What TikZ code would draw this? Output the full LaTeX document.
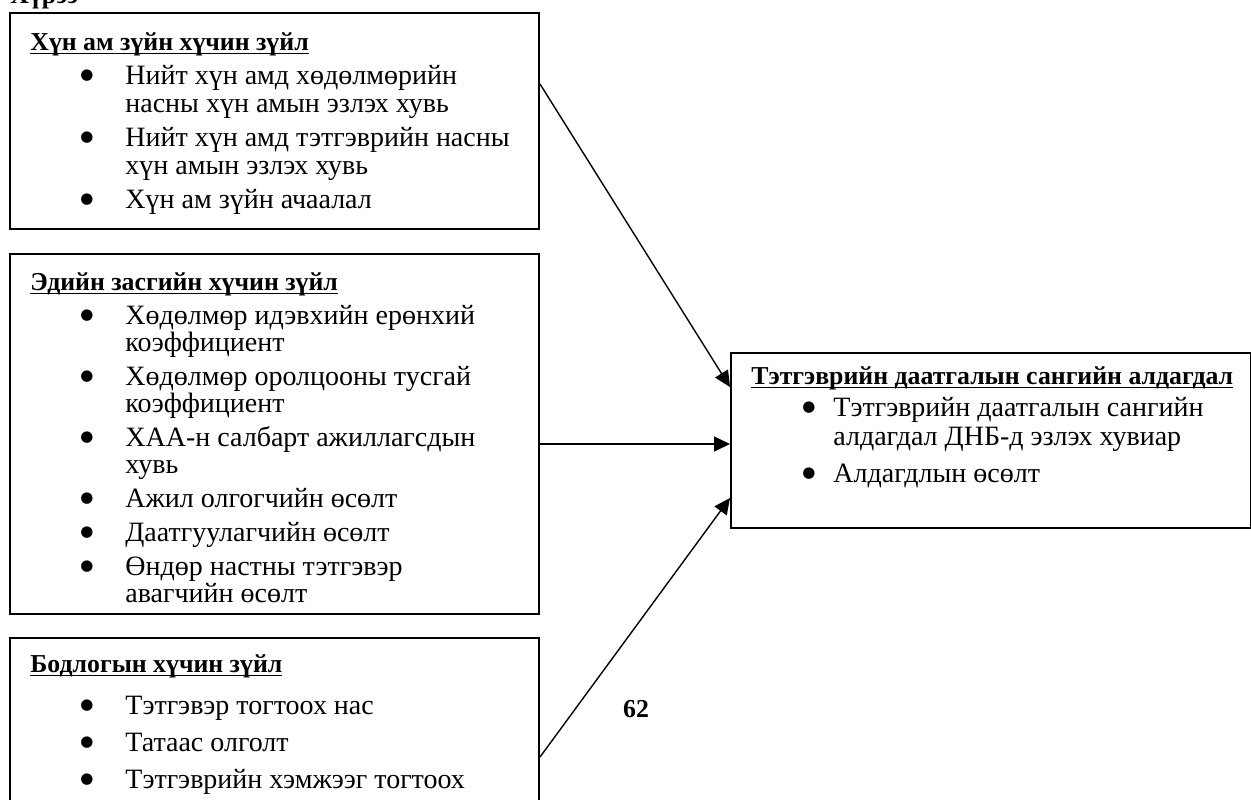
\documentclass[tikz,border=0pt]{standalone}
\usepackage{fontspec}
\setmainfont{Liberation Serif}
\newfontfamily\dotfont{DejaVu Sans}
\usetikzlibrary{arrows.meta}
\usetikzlibrary{calc}

\newcommand{\hd}[1]{\textbf{\setbox0\hbox{#1}\rlap{\rule[-2.2pt]{\wd0}{0.9pt}}\box0}}
\newcommand{\bul}[1][16pt]{\llap{\raisebox{2.2pt}{\dotfont\fontsize{7.5}{8}\selectfont ●}\hspace{#1}}}

\begin{document}
\begin{tikzpicture}[x=0.5pt, y=-0.5pt,
    box/.style={draw, line width=1pt, rectangle, anchor=north west, inner sep=0pt},
    txt/.style={anchor=base west, inner sep=0pt, font=\fontsize{14}{16}\selectfont},
    head/.style={anchor=base west, inner sep=0pt, font=\fontsize{12.9}{15}\selectfont},
    bold/.style={font=\fontsize{12.9}{15}\selectfont\bfseries},
    arr/.style={-{Triangle[length=8pt, width=7.5pt]}, line width=0.7pt}]
	\useasboundingbox (0,0) rectangle (1251,799);

	% caption, cut off at the top
	\node[head, bold] (cap) at (10,3.5) {Хүрээ};

	% boxes
	\node[box, minimum width=264.5pt, minimum height=108pt] (demo) at (9,12) {};
	\node[box, minimum width=264.5pt, minimum height=180pt] (econ) at (9,253) {};
	\node[box, minimum width=264.5pt, minimum height=91.5pt] (policy) at (9,637) {};
	\node[box, minimum width=259.75pt, minimum height=87.5pt] (deficit) at (730,352) {};

	% texts
	\node[head] (demoh) at (30,50) {\hd{Хүн ам зүйн хүчин зүйл}};
	\foreach \y/\t [count=\i] in {84/\bul Нийт хүн амд хөдөлмөрийн,
	        112/насны хүн амын эзлэх хувь,
	        146/\bul Нийт хүн амд тэтгэврийн насны,
	        174/хүн амын эзлэх хувь,
	        208/\bul Хүн ам зүйн ачаалал}
		\node[txt] (demo\i) at (125,\y) {\t};

	\node[head] (econh) at (30,290) {\hd{Эдийн засгийн хүчин зүйл}};
	\foreach \y/\t [count=\i] in {324/\bul Хөдөлмөр идэвхийн ерөнхий,
	        351/коэффициент,
	        385/\bul Хөдөлмөр оролцооны тусгай,
	        412/коэффициент,
	        446/\bul ХАА-н салбарт ажиллагсдын,
	        473/хувь,
	        507/\bul Ажил олгогчийн өсөлт,
	        541/\bul Даатгуулагчийн өсөлт,
	        575/\bul Өндөр настны тэтгэвэр,
	        602/авагчийн өсөлт}
		\node[txt] (econ\i) at (125,\y) {\t};

	\node[head] (policyh) at (30,672) {\hd{Бодлогын хүчин зүйл}};
	\foreach \y/\t [count=\i] in {714/\bul Тэтгэвэр тогтоох нас,
	        751/\bul Татаас олголт,
	        788/\bul Тэтгэврийн хэмжээг тогтоох}
		\node[txt] (policy\i) at (125,\y) {\t};

	\node[head] (deficith) at (751,384) {\hd{Тэтгэврийн даатгалын сангийн алдагдал}};
	\foreach \y/\t [count=\i] in {416/\bul[9pt]Тэтгэврийн даатгалын сангийн,
	        445/алдагдал ДНБ-д эзлэх хувиар,
	        482/\bul[9pt]Алдагдлын өсөлт}
		\node[txt] (deficit\i) at (833,\y) {\t};

	\node[head, bold, anchor=base] (page) at (636,717) {62};

	% arrows
	\draw[arr] ([yshift=-36pt]demo.north east) -- ([yshift=-17.5pt]deficit.north west);
	\draw[arr] ([yshift=-95.5pt]econ.north east) -- ([yshift=-46pt]deficit.north west);
	\draw[arr] ([yshift=-60pt]policy.north east) -- ([yshift=-73pt]deficit.north west);
\end{tikzpicture}
\end{document}
